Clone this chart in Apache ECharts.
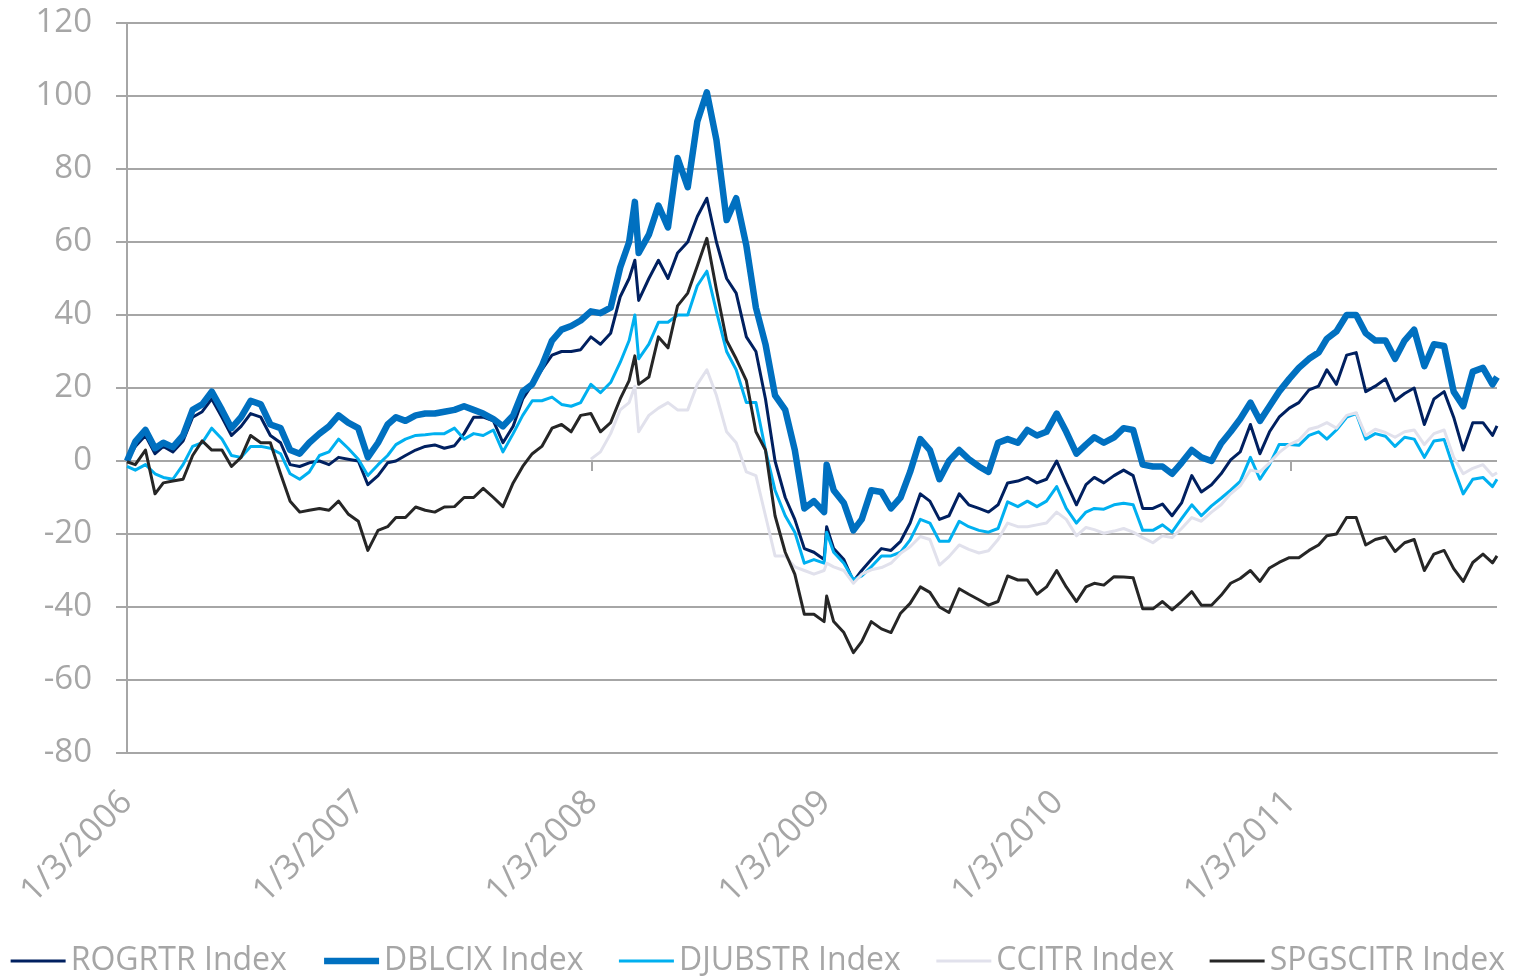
<!DOCTYPE html>
<html>
<head>
<meta charset="utf-8">
<script src="https://cdn.jsdelivr.net/npm/echarts@6/dist/echarts.min.js"></script>
<style>
html,body{margin:0;padding:0;background:#ffffff;}
#chart{width:1514px;height:977px;}
</style>
</head>
<body>
<div id="chart"></div>
<script>
// ---------- data ----------
const dates = [
'2006-01-03','2006-01-16','2006-02-01','2006-02-16','2006-03-01','2006-03-16','2006-04-01','2006-04-16','2006-05-01','2006-05-16','2006-06-01','2006-06-16',
'2006-07-01','2006-07-16','2006-08-01','2006-08-16','2006-09-01','2006-09-16','2006-10-01','2006-10-16','2006-11-01','2006-11-16','2006-12-01','2006-12-16',
'2007-01-01','2007-01-16','2007-02-01','2007-02-16','2007-03-01','2007-03-16','2007-04-01','2007-04-16','2007-05-01','2007-05-16','2007-06-01','2007-06-16',
'2007-07-01','2007-07-16','2007-08-01','2007-08-16','2007-09-01','2007-09-16','2007-10-01','2007-10-16','2007-11-01','2007-11-16','2007-12-01','2007-12-16',
'2008-01-01','2008-01-16','2008-02-01','2008-02-16','2008-03-01','2008-03-10','2008-03-16','2008-04-01','2008-04-16','2008-05-01','2008-05-16','2008-06-01','2008-06-16',
'2008-07-01','2008-07-16','2008-08-01','2008-08-16','2008-09-01','2008-09-16','2008-10-01','2008-10-16','2008-11-01','2008-11-16','2008-12-01','2008-12-16',
'2009-01-01','2009-01-05','2009-01-16','2009-02-01','2009-02-16','2009-03-01','2009-03-16','2009-04-01','2009-04-16','2009-05-01','2009-05-16','2009-06-01','2009-06-16',
'2009-07-01','2009-07-16','2009-08-01','2009-08-16','2009-09-01','2009-09-16','2009-10-01','2009-10-16','2009-11-01','2009-11-16','2009-12-01','2009-12-16',
'2010-01-01','2010-01-16','2010-02-01','2010-02-16','2010-03-01','2010-03-16','2010-04-01','2010-04-16','2010-05-01','2010-05-16','2010-06-01','2010-06-16',
'2010-07-01','2010-07-16','2010-08-01','2010-08-16','2010-09-01','2010-09-16','2010-10-01','2010-10-16','2010-11-01','2010-11-16','2010-12-01','2010-12-16',
'2011-01-01','2011-01-16','2011-02-01','2011-02-16','2011-03-01','2011-03-16','2011-04-01','2011-04-16','2011-05-01','2011-05-16','2011-06-01','2011-06-16',
'2011-07-01','2011-07-16','2011-08-01','2011-08-16','2011-09-01','2011-09-16','2011-10-01','2011-10-16','2011-11-01','2011-11-16','2011-11-23'
];

const rogrtr = [
0,4,7,2,4,2.5,5.5,12,13.5,17,12,7,9.5,13,12,7,5,-1,-1.5,-0.5,0,-1,1,0.5,
0,-6.5,-4,-0.5,0,1.5,3,4,4.4,3.5,4.2,7.5,12,12,11,5,9.5,17,21,25,29,30,30,30.5,
34,32,35,45,50,55,44,50,55,50,57,60,67,72,60,50,46,34,30,17,0,-10,-16,-24,-25,
-27,-18,-24,-27,-33,-30,-27,-24,-24.5,-22,-17,-9,-11,-16,-15,-9,-12,-13,-14,-12,-6,-5.5,-4.5,-6,-5,
0,-6,-12,-6.5,-4.5,-6,-4,-2.5,-4,-13,-13,-11.8,-15,-11.5,-4,-8.5,-6.5,-3.5,0.3,2.5,10,2,8,12,
14.5,16,19.5,20.5,25,21,29,29.7,19,20.5,22.5,16.5,18.5,20,10,17,19,12,3,10.5,10.5,7,9.6
];

const dblcix = [
0,5.3,8.5,3.5,5,3.8,7,14,15.5,19,14,9,12,16.5,15.5,10,9,3,2,5,7.5,9.5,12.5,10.5,
9,1,5,10,12,11,12.5,13,13,13.5,14,15,14,13,11.5,9.5,12.5,19,21,26,33,36,37,38.5,
41,40.5,42,53,60,71,57,62,70,64,83,75,93,101,88,66,72,59,42,32,18,14,3,-13,-11,
-14,-1,-8,-11.5,-19,-16,-8,-8.5,-13,-10,-3,6,3,-5,0,3,0.5,-1.5,-3,5,6,5,8.5,7,8,
13,8,2,4.5,6.5,5,6.5,9,8.5,-1,-1.5,-1.5,-3.5,-0.5,3,1,0,4.8,8,11.5,16,11,15,19,
22.5,25.5,28,29.7,33.5,35.5,40,40,35,33,33,28,33,36,26,32,31.5,19,15,24.5,25.5,21,23
];

const djubstr = [
-1.5,-2.5,-1,-3.5,-4.5,-5,-1,4,5,9,6,1.5,1,4,4,3.5,2,-3.5,-5,-3,1.5,2.5,6,3.5,
0.5,-4,-1,1.5,4.5,6,7,7.2,7.5,7.5,9,6,7.5,7,8.5,2.5,7.5,12.5,16.5,16.5,17.5,15.5,15,16,
21,18.7,21.5,27,33,40,28,32,38,38,40,40,48,52,41,30,25,16,16,3,-8,-15,-19.5,-28,-27,
-28,-19.5,-25,-28,-32.5,-31.5,-29,-26,-26,-25,-21.6,-16,-17,-22,-22,-16.5,-18,-19,-19.5,-18.5,-11.2,-12.5,-11,-12.5,-11,
-7,-13,-17,-14,-13,-13.2,-12,-11.6,-12,-19,-19,-17.5,-19.5,-15.8,-12,-15,-12.3,-10.2,-8,-5.6,1,-5,-1,4.5,
4.5,4.3,7,8,6,8.5,12,13,6,7.5,6.8,4,6.5,6,1,5.5,5.9,-2,-9,-5,-4.5,-7,-5
];

const ccitr = [
null,null,null,null,null,null,null,null,null,null,null,null,null,null,null,null,null,null,null,null,null,null,null,null,
null,null,null,null,null,null,null,null,null,null,null,null,null,null,null,null,null,null,null,null,null,null,null,null,
0.5,2.5,7.5,14,16,20.5,8,12.5,14.5,16,14,14,21,25,18,8,5,-3,-4,-15,-26,-26,-29,-30,-31,
-30,-28,-29,-30,-33.5,-31,-29.8,-29.2,-28,-25.3,-23.5,-20.7,-21.5,-28.5,-26.2,-23,-24.2,-25.2,-24.6,-21.5,-17,-18,-18,-17.5,-17,
-14,-16,-20.5,-18.2,-18.8,-19.8,-19.2,-18.5,-19.5,-21,-22.4,-20.5,-21,-18.5,-15.5,-16.5,-14,-12,-9,-6.8,-2.5,-3,-0.5,2.3,
4.5,5.7,8.7,9.4,10.5,9,12.5,13.2,7,8.7,7.8,6.5,8,8.5,4.5,7.5,8.5,1,-3.5,-2,-1,-4,-3.2
];

const spgscitr = [
-0.2,-1,3,-9,-6,-5.5,-5,1.5,5.5,3,3,-1.5,1,7,5,5,-3.5,-11,-14,-13.5,-13,-13.5,-11,-14.5,
-16.5,-24.5,-19,-18,-15.5,-15.5,-12.6,-13.5,-14,-12.6,-12.5,-10,-10,-7.5,-10,-12.5,-6,-1.5,2,4,9,10,8,12.5,
13,8,10.5,17,22,28.8,21,23,34,31,42.5,46,53.4,61,47,33,28,22,8,3,-15,-25,-31,-42,-42,
-44,-37,-44,-47,-52.5,-49.5,-44,-46,-47,-41.7,-39,-34.5,-36,-40,-41.5,-35,-36.5,-38,-39.5,-38.5,-31.5,-32.6,-32.6,-36.5,-34.5,
-30,-34.5,-38.5,-34.5,-33.5,-34,-31.7,-31.8,-32,-40.5,-40.5,-38.5,-40.8,-38.5,-35.8,-39.5,-39.5,-36.8,-33.5,-32.2,-30,-33,-29.3,-27.8,
-26.5,-26.5,-24.5,-23,-20.5,-20,-15.5,-15.5,-23,-21.5,-20.8,-24.8,-22.4,-21.5,-30,-25.5,-24.5,-29.5,-33,-27.8,-25.5,-27.9,-26
];

const seriesNames = ['ROGRTR Index','DBLCIX Index','DJUBSTR Index','CCITR Index','SPGSCITR Index'];
const seriesColors = ['#002060','#0070C0','#00B0F0','#E1E1EC','#262626'];
const seriesWidths = [3, 6.5, 3, 3, 3];
const seriesValues = [rogrtr, dblcix, djubstr, ccitr, spgscitr];
const xLabelDates = ['2006-01-03','2007-01-03','2008-01-03','2009-01-03','2010-01-03','2011-01-03'];
const zeroTickDates = ['2008-01-03','2011-01-03'];
const yTicks = [-80,-60,-40,-20,0,20,40,60,80,100,120];

// ---------- helpers ----------
function ts(s){ const p = s.split('-'); return Date.UTC(+p[0], +p[1]-1, +p[2]); }
function zip(vals){ return dates.map((d,i)=>[ts(d), vals[i]]); }
function fmt(v){ const d = new Date(v); return (d.getUTCMonth()+1)+'/'+d.getUTCDate()+'/'+d.getUTCFullYear(); }

const GRAY = '#A6A6A6';
const FONT = "'Open Sans', 'Liberation Sans', sans-serif";
const xMin = ts(dates[0]), xMax = ts(dates[dates.length-1]);

const chart = echarts.init(document.getElementById('chart'), null, {renderer:'canvas'});
chart.setOption({
  animation:false,
  backgroundColor:'#ffffff',
  grid:{left:127, right:17, top:23, bottom:224, containLabel:false},
  legend:{
    left:'center', top:945, padding:0,
    itemWidth:55, itemHeight:14, itemGap:34,
    itemStyle:{opacity:0},
    textStyle:{fontSize:32, color:GRAY, fontFamily:FONT},
    data: seriesNames.map((n,i)=>({name:n, lineStyle:{width:seriesWidths[i], color:seriesColors[i]}}))
  },
  xAxis:[{
    type:'value',
    min: xMin, max: xMax,
    axisLine:{show:true, onZero:false, lineStyle:{color:GRAY, width:2}},
    axisTick:{show:false},
    splitLine:{show:false},
    axisLabel:{
      customValues: xLabelDates.map(ts),
      formatter: fmt,
      rotate:45, margin:44,
      fontSize:34, color:GRAY, fontFamily:FONT
    }
  },{
    type:'value',
    min: xMin, max: xMax,
    position:'bottom',
    axisLine:{show:false, onZero:true},
    axisTick:{show:true, customValues: zeroTickDates.map(ts), length:10, lineStyle:{color:GRAY, width:2}},
    axisLabel:{show:false},
    splitLine:{show:false}
  }],
  yAxis:{
    type:'value',
    min: yTicks[0], max: yTicks[yTicks.length-1], interval:20,
    axisLine:{show:true, lineStyle:{color:GRAY, width:2}},
    axisTick:{show:true, length:11, lineStyle:{color:GRAY, width:2}},
    splitLine:{show:true, lineStyle:{color:GRAY, width:2}},
    axisLabel:{margin:35, fontSize:33, color:GRAY, fontFamily:FONT}
  },
  series: seriesNames.map((n,i)=>({
    name:n, type:'line', data:zip(seriesValues[i]), symbol:'none',
    lineStyle:{color:seriesColors[i], width:seriesWidths[i], join:'round'},
    itemStyle:{color:seriesColors[i]}
  }))
});
</script>
</body>
</html>
